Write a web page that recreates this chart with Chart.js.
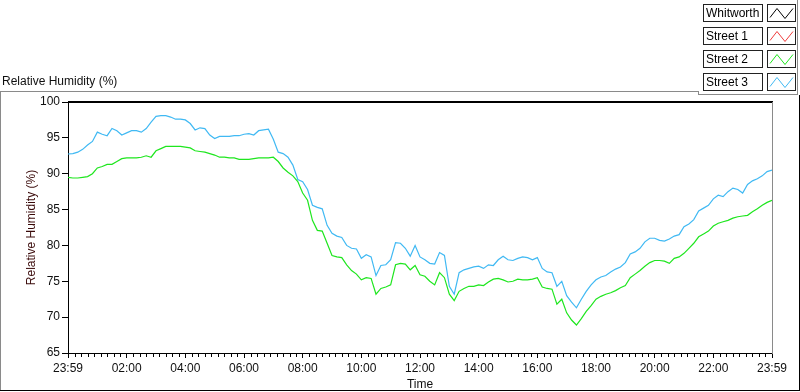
<!DOCTYPE html>
<html><head><meta charset="utf-8">
<script src="https://cdn.jsdelivr.net/npm/chart.js@4/dist/chart.umd.min.js"></script>
<style>html,body{margin:0;padding:0;background:#fff;overflow:hidden}</style>
</head><body>
<canvas id="c" width="800" height="392"></canvas>
<script>
const seriesNames = ['Whitworth', 'Street 1', 'Street 2', 'Street 3'];
const seriesColors = ['#000000', '#f03c3c', '#1ee61e', '#40b9f3'];
const xTickMinutes = [0, 120, 240, 360, 480, 600, 720, 840, 960, 1080, 1200, 1320, 1440];
const xTickLabels = ['23:59', '02:00', '04:00', '06:00', '08:00', '10:00', '12:00', '14:00', '16:00', '18:00', '20:00', '22:00', '23:59'];
const yTitle = 'Relative Humidity (%)';
const xTitle = 'Time';
// sample grid: one reading every 10 minutes
const sampleMinutes = Array.from({length: 145}, (_, i) => i * 10);

const whitworth = [];
const street1 = [];
const street2 = [
 89.5,89.4,89.4,89.5,89.6,90.0,90.8,91.0,91.3,91.3,91.7,92.1,92.2,92.2,92.2,92.3,92.5,92.3,93.2,93.5,
 93.8,93.8,93.8,93.8,93.7,93.6,93.2,93.1,93.0,92.8,92.6,92.3,92.3,92.2,92.2,92.0,92.0,92.0,92.1,92.2,
 92.2,92.2,92.3,91.7,90.8,90.2,89.7,88.9,87.3,86.3,83.5,82.1,82.0,80.3,78.6,78.4,78.3,77.3,76.5,76.0,
 75.2,75.5,75.4,73.2,74.0,74.2,74.5,77.3,77.5,77.4,76.6,77.2,75.9,75.7,75.0,74.5,76.2,75.5,73.2,72.3,
 73.6,74.0,74.3,74.3,74.5,74.4,74.9,75.3,75.4,75.2,74.9,75.0,75.3,75.2,75.2,75.3,75.5,74.2,74.0,73.9,
 71.8,72.5,70.6,69.6,68.9,69.8,70.8,71.6,72.5,72.9,73.2,73.4,73.7,74.1,74.4,75.5,76.0,76.5,77.1,77.6,
 77.9,77.9,77.8,77.5,78.2,78.4,78.9,79.6,80.3,81.2,81.6,82.0,82.7,83.1,83.3,83.5,83.8,84.0,84.1,84.2,
 84.7,85.1,85.6,86.0,86.3];
const street3 = [
 92.75,92.8,93.0,93.4,94.0,94.5,95.8,95.5,95.3,96.3,96.0,95.4,95.7,96.0,96.0,95.8,96.3,97.2,98.0,98.1,
 98.1,97.9,97.6,97.6,97.5,97.0,96.1,96.4,96.3,95.4,94.9,95.2,95.2,95.2,95.3,95.3,95.5,95.6,95.4,96.0,
 96.1,96.2,94.8,93.0,92.8,92.3,91.2,89.2,88.9,87.8,85.6,85.3,85.1,82.8,81.7,81.3,81.1,80.0,79.6,79.5,
 78.2,78.7,78.4,75.8,77.2,77.3,78.0,80.4,80.3,79.6,78.5,80.0,78.4,78.0,77.5,77.4,79.0,78.6,74.3,73.2,
 76.2,76.6,76.8,77.0,77.1,76.8,77.3,77.2,78.0,78.5,78.0,77.9,78.2,78.4,78.3,78.0,78.3,76.8,76.3,76.2,
 74.3,75.0,73.0,72.1,71.3,72.5,73.6,74.5,75.2,75.6,75.8,76.3,76.7,77.0,77.6,78.8,79.1,79.6,80.5,81.0,
 81.0,80.7,80.6,80.9,81.3,81.5,82.6,83.0,83.6,84.8,85.2,85.6,86.5,87.0,86.8,87.5,88.0,87.8,87.3,88.5,
 89.0,89.3,89.7,90.3,90.5];

const seriesValues = [whitworth, street1, street2, street3];
const FONT = {family: '"Liberation Sans", Arial, sans-serif', size: 12};
const TEXT = '#101010';

const datasets = seriesNames.map((name, i) => ({
  label: name,
  data: seriesValues[i].map((v, j) => ({x: sampleMinutes[j], y: v})),
  borderColor: seriesColors[i],
  backgroundColor: seriesColors[i],
  borderWidth: 1.2,
  pointRadius: 0,
  tension: 0,
  fill: false
}));

const framePlugin = {
  id: 'frame',
  beforeDraw(chart) {
    const ctx = chart.ctx;
    ctx.save();
    ctx.fillStyle = '#fff';
    ctx.fillRect(0, 0, chart.width, chart.height);
    ctx.restore();
  },
  afterDraw(chart) {
    const ctx = chart.ctx;
    const a = chart.chartArea;
    const xs = chart.scales.x;
    ctx.save();
    // plot frame: thick top, grey right
    ctx.fillStyle = '#000';
    ctx.fillRect(a.left, a.top - 1, a.right - a.left + 1, 2);
    ctx.fillStyle = '#8a8a8a';
    ctx.fillRect(Math.round(a.right), a.top, 1, a.bottom - a.top + 1);
    // minor x ticks
    ctx.fillStyle = '#000';
    for (let m = 0; m < xTickMinutes.length - 1; m++) {
      const a0 = xTickMinutes[m], a1 = xTickMinutes[m + 1];
      for (let k = 1; k < 9; k++) {
        const px = Math.round(xs.getPixelForValue(a0 + (a1 - a0) * k / 9));
        ctx.fillRect(px, Math.round(a.bottom) + 1, 1, 3);
      }
    }
    // outer frame
    ctx.fillStyle = '#8a8a8a';
    ctx.fillRect(0, 91, 698, 1);
    ctx.fillRect(0, 91, 1, 300);
    ctx.fillRect(698, 91, 1, 4);
    ctx.fillRect(698, 94, 100, 1);
    ctx.fillRect(797, 0, 1, 95);
    ctx.fillStyle = '#000';
    ctx.fillRect(0, 390, 800, 1);
    ctx.fillRect(799, 95, 1, 296);
    // top label
    ctx.font = `${FONT.size}px ${FONT.family}`;
    ctx.fillStyle = TEXT;
    ctx.textBaseline = 'middle';
    ctx.textAlign = 'left';
    ctx.fillText(yTitle, 2, 82);
    // legend
    chart.data.datasets.forEach((ds, i) => {
      const y = 4.5 + 23 * i;
      ctx.strokeStyle = '#222';
      ctx.lineWidth = 1;
      ctx.strokeRect(703.5, y, 59, 17);
      ctx.strokeRect(767.5, y, 28, 17);
      ctx.fillStyle = '#000';
      ctx.fillText(ds.label, 706, y + 9);
      ctx.strokeStyle = ds.borderColor;
      ctx.beginPath();
      ctx.moveTo(770, y + 13);
      ctx.lineTo(777, y + 4);
      ctx.lineTo(785, y + 14);
      ctx.lineTo(793, y + 4);
      ctx.stroke();
    });
    ctx.restore();
  }
};

new Chart(document.getElementById('c'), {
  type: 'line',
  data: {datasets},
  options: {
    responsive: false,
    animation: false,
    events: [],
    layout: {padding: {left: 20, right: 28, top: 102, bottom: 0}},
    plugins: {legend: {display: false}, tooltip: {enabled: false}},
    scales: {
      x: {
        type: 'linear', min: 0, max: 1440,
        afterBuildTicks: s => { s.ticks = xTickMinutes.map(v => ({value: v})); },
        afterFit: s => { s.height = 39; },
        ticks: {
          autoSkip: false, maxRotation: 0, padding: 3, color: TEXT, font: FONT,
          callback: v => xTickLabels[xTickMinutes.indexOf(v)]
        },
        grid: {drawOnChartArea: false, drawTicks: true, tickLength: 5, color: '#000'},
        border: {display: true, color: '#000', width: 1},
        title: {display: true, text: xTitle, color: TEXT, font: FONT, padding: {top: 0, bottom: 0}}
      },
      y: {
        min: 65, max: 100,
        afterFit: s => { s.width = 48; },
        ticks: {stepSize: 5, padding: 2, color: TEXT, font: FONT},
        grid: {drawOnChartArea: false, drawTicks: true, tickLength: 6, color: '#000'},
        border: {display: true, color: '#000', width: 1},
        title: {display: true, text: yTitle, color: '#3a0a0a', font: FONT, padding: {top: 4, bottom: 4}}
      }
    }
  },
  plugins: [framePlugin]
});
</script>
</body></html>
